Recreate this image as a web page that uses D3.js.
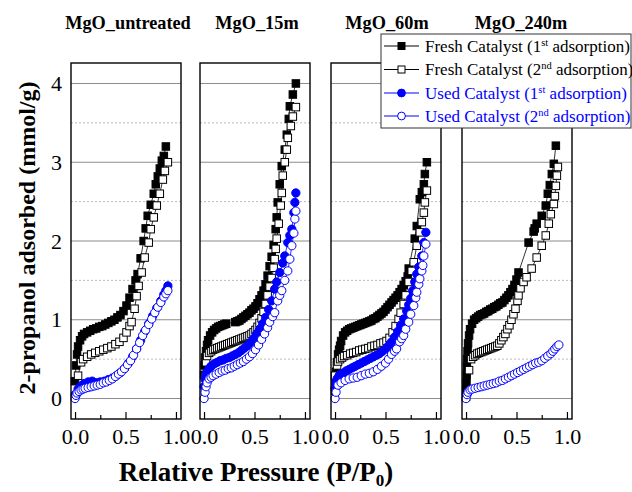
<!DOCTYPE html>
<html><head><meta charset="utf-8">
<script src="https://cdn.jsdelivr.net/npm/d3@7"></script>
<style>body{margin:0;background:#fff}svg{display:block}text{font-family:"Liberation Serif","Times New Roman",serif}</style>
</head><body><svg id="c" width="632" height="492"></svg>
<script>
// ---- data ----
const panelTitles = ["MgO_untreated", "MgO_15m", "MgO_60m", "MgO_240m"];
const seriesNames = ["Fresh Catalyst (1st adsorption)", "Fresh Catalyst (2nd adsorption)", "Used Catalyst (1st adsorption)", "Used Catalyst (2nd adsorption)"];
const xTickValues = [0, 0.25, 0.5, 0.75, 1];
const xTickLabels = ["0.0", "", "0.5", "", "1.0"];
const yTickValues = [0, 1, 2, 3, 4];
const yHalfValues = [0.5, 1.5, 2.5, 3.5];

const untreatedFresh1 = [[0.00,0.22],[0.01,0.42],[0.02,0.56],[0.03,0.66],[0.05,0.74],[0.07,0.79],[0.09,0.82],[0.12,0.84],[0.15,0.86],[0.18,0.88],[0.21,0.89],[0.24,0.91],[0.27,0.92],[0.30,0.94],[0.33,0.96],[0.36,0.98],[0.39,1.00],[0.42,1.03],[0.45,1.06],[0.48,1.11],[0.51,1.18],[0.54,1.28],[0.57,1.39],[0.60,1.50],[0.62,1.58],[0.65,1.78],[0.68,2.00],[0.70,2.16],[0.72,2.32],[0.75,2.46],[0.78,2.60],[0.80,2.72],[0.82,2.82],[0.84,2.92],[0.86,3.02],[0.88,3.08],[0.90,3.20]];
const untreatedFresh2 = [[0.03,0.29],[0.06,0.46],[0.08,0.50],[0.12,0.53],[0.16,0.56],[0.20,0.58],[0.24,0.60],[0.28,0.62],[0.32,0.64],[0.36,0.66],[0.40,0.69],[0.44,0.72],[0.48,0.77],[0.51,0.84],[0.54,0.92],[0.56,0.97],[0.59,1.14],[0.61,1.30],[0.63,1.43],[0.66,1.60],[0.69,1.79],[0.73,1.98],[0.75,2.15],[0.78,2.30],[0.81,2.45],[0.84,2.60],[0.87,2.78],[0.89,2.89],[0.92,3.00]];
const untreatedUsed1 = [[0.00,0.05],[0.03,0.12],[0.06,0.16],[0.09,0.19],[0.13,0.21],[0.17,0.22],[0.21,0.20],[0.25,0.21],[0.29,0.22],[0.33,0.24],[0.37,0.26],[0.41,0.29],[0.45,0.33],[0.49,0.38],[0.53,0.45],[0.57,0.53],[0.61,0.63],[0.65,0.74],[0.69,0.85],[0.73,0.95],[0.77,1.05],[0.81,1.15],[0.85,1.24],[0.88,1.32],[0.90,1.37],[0.92,1.43]];
const untreatedUsed2 = [[0.00,0.00],[0.01,0.04],[0.02,0.07],[0.04,0.09],[0.06,0.11],[0.08,0.12],[0.10,0.13],[0.13,0.14],[0.16,0.15],[0.19,0.16],[0.22,0.17],[0.25,0.18],[0.28,0.20],[0.31,0.21],[0.34,0.23],[0.37,0.25],[0.40,0.28],[0.43,0.31],[0.46,0.34],[0.49,0.38],[0.52,0.43],[0.55,0.48],[0.58,0.55],[0.61,0.63],[0.64,0.71],[0.67,0.80],[0.70,0.87],[0.73,0.94],[0.76,1.01],[0.79,1.09],[0.82,1.16],[0.85,1.22],[0.88,1.29],[0.90,1.33],[0.92,1.37]];

const m15Fresh1 = [[0.00,0.30],[0.005,0.42],[0.01,0.52],[0.02,0.60],[0.03,0.68],[0.04,0.74],[0.06,0.80],[0.08,0.84],[0.10,0.87],[0.12,0.89],[0.14,0.91],[0.16,0.92],[0.18,0.93],[0.20,0.94],[0.22,0.95],[0.31,0.97],[0.33,0.98],[0.35,0.99],[0.37,1.01],[0.39,1.03],[0.41,1.05],[0.43,1.07],[0.45,1.09],[0.47,1.12],[0.49,1.14],[0.51,1.17],[0.53,1.21],[0.55,1.26],[0.57,1.31],[0.59,1.37],[0.61,1.45],[0.63,1.56],[0.65,1.68],[0.67,1.80],[0.69,1.95],[0.71,2.15],[0.72,2.30],[0.73,2.49],[0.75,2.72],[0.77,2.95],[0.80,3.16],[0.82,3.35],[0.84,3.55],[0.85,3.71],[0.88,3.86],[0.91,4.00]];
const m15Fresh2 = [[0.01,0.29],[0.02,0.46],[0.03,0.54],[0.05,0.58],[0.07,0.60],[0.09,0.62],[0.11,0.63],[0.13,0.64],[0.15,0.65],[0.17,0.66],[0.19,0.67],[0.21,0.68],[0.23,0.69],[0.25,0.70],[0.27,0.71],[0.29,0.72],[0.31,0.73],[0.33,0.74],[0.35,0.75],[0.37,0.76],[0.39,0.77],[0.41,0.78],[0.43,0.79],[0.45,0.80],[0.47,0.82],[0.49,0.84],[0.51,0.87],[0.53,0.91],[0.55,0.96],[0.57,1.02],[0.59,1.10],[0.61,1.20],[0.63,1.31],[0.65,1.42],[0.67,1.53],[0.69,1.66],[0.70,1.77],[0.71,1.90],[0.72,2.03],[0.74,2.22],[0.76,2.45],[0.77,2.61],[0.78,2.83],[0.80,3.00],[0.82,3.16],[0.83,3.31],[0.86,3.46],[0.88,3.58],[0.91,3.70]];
const m15Used1 = [[0.00,0.15],[0.01,0.24],[0.02,0.30],[0.03,0.34],[0.05,0.38],[0.07,0.41],[0.10,0.44],[0.13,0.46],[0.16,0.48],[0.19,0.49],[0.22,0.51],[0.25,0.52],[0.28,0.54],[0.31,0.56],[0.34,0.58],[0.37,0.61],[0.40,0.64],[0.43,0.67],[0.46,0.71],[0.49,0.76],[0.52,0.82],[0.55,0.88],[0.58,0.95],[0.61,1.03],[0.64,1.13],[0.67,1.24],[0.70,1.39],[0.72,1.48],[0.75,1.60],[0.78,1.72],[0.80,1.81],[0.83,1.98],[0.85,2.07],[0.87,2.15],[0.89,2.36],[0.90,2.49],[0.91,2.61]];
const m15Used2 = [[0.00,0.00],[0.01,0.08],[0.02,0.15],[0.03,0.20],[0.05,0.25],[0.07,0.27],[0.09,0.29],[0.12,0.31],[0.15,0.33],[0.18,0.35],[0.21,0.36],[0.24,0.38],[0.27,0.39],[0.30,0.41],[0.33,0.43],[0.36,0.45],[0.39,0.47],[0.42,0.50],[0.45,0.53],[0.48,0.57],[0.51,0.62],[0.54,0.68],[0.57,0.75],[0.60,0.82],[0.63,0.90],[0.65,0.97],[0.68,1.04],[0.70,1.09],[0.73,1.24],[0.75,1.31],[0.77,1.37],[0.80,1.50],[0.83,1.62],[0.85,1.77],[0.87,1.94],[0.89,2.10],[0.90,2.28],[0.91,2.38]];

const m60Fresh1 = [[0.00,0.10],[0.005,0.21],[0.01,0.34],[0.02,0.46],[0.03,0.56],[0.04,0.62],[0.05,0.67],[0.06,0.73],[0.08,0.80],[0.10,0.84],[0.12,0.86],[0.14,0.88],[0.16,0.89],[0.18,0.90],[0.20,0.91],[0.22,0.92],[0.24,0.93],[0.26,0.94],[0.28,0.95],[0.30,0.96],[0.32,0.97],[0.34,0.98],[0.36,0.99],[0.38,1.01],[0.40,1.02],[0.42,1.04],[0.44,1.06],[0.46,1.08],[0.48,1.10],[0.50,1.13],[0.52,1.16],[0.54,1.19],[0.56,1.22],[0.58,1.25],[0.60,1.28],[0.62,1.31],[0.64,1.35],[0.66,1.39],[0.68,1.44],[0.70,1.49],[0.72,1.55],[0.73,1.65],[0.79,2.03],[0.81,2.19],[0.84,2.53],[0.86,2.62],[0.88,2.72],[0.89,2.85],[0.91,3.00]];
const m60Fresh2 = [[0.00,0.29],[0.02,0.42],[0.03,0.47],[0.05,0.50],[0.07,0.52],[0.09,0.54],[0.12,0.55],[0.15,0.57],[0.18,0.58],[0.21,0.59],[0.24,0.61],[0.27,0.62],[0.30,0.63],[0.33,0.64],[0.36,0.66],[0.39,0.67],[0.42,0.68],[0.45,0.70],[0.48,0.71],[0.51,0.73],[0.54,0.77],[0.57,0.84],[0.60,0.92],[0.63,1.01],[0.65,1.09],[0.68,1.20],[0.70,1.31],[0.73,1.48],[0.76,1.62],[0.78,1.73],[0.81,1.94],[0.84,2.11],[0.86,2.24],[0.88,2.36],[0.89,2.49],[0.91,2.64]];
const m60Used1 = [[0.00,0.13],[0.01,0.20],[0.02,0.25],[0.04,0.29],[0.06,0.31],[0.08,0.32],[0.11,0.35],[0.14,0.37],[0.17,0.39],[0.20,0.41],[0.23,0.43],[0.26,0.45],[0.29,0.47],[0.32,0.49],[0.35,0.51],[0.38,0.53],[0.41,0.55],[0.44,0.57],[0.47,0.60],[0.50,0.63],[0.53,0.67],[0.56,0.72],[0.59,0.78],[0.62,0.85],[0.65,0.93],[0.68,1.01],[0.71,1.11],[0.73,1.19],[0.75,1.27],[0.77,1.37],[0.79,1.48],[0.81,1.58],[0.83,1.67],[0.86,1.81],[0.88,1.98],[0.90,2.11]];
const m60Used2 = [[0.00,0.00],[0.01,0.08],[0.03,0.17],[0.06,0.20],[0.10,0.23],[0.14,0.25],[0.18,0.26],[0.22,0.27],[0.26,0.29],[0.30,0.31],[0.34,0.32],[0.38,0.34],[0.42,0.37],[0.46,0.41],[0.50,0.45],[0.53,0.50],[0.56,0.56],[0.59,0.60],[0.61,0.63],[0.64,0.72],[0.66,0.76],[0.68,0.80],[0.70,0.88],[0.73,0.97],[0.75,1.07],[0.78,1.18],[0.80,1.28],[0.81,1.35],[0.83,1.45],[0.84,1.52],[0.86,1.62],[0.87,1.69],[0.88,1.81],[0.90,1.96]];

const m240Fresh1 = [[0.00,0.02],[0.002,0.10],[0.004,0.20],[0.006,0.30],[0.008,0.40],[0.01,0.50],[0.015,0.60],[0.02,0.70],[0.03,0.80],[0.04,0.88],[0.06,0.95],[0.08,1.00],[0.10,1.02],[0.12,1.04],[0.14,1.06],[0.16,1.07],[0.18,1.08],[0.20,1.10],[0.22,1.11],[0.24,1.13],[0.26,1.14],[0.28,1.16],[0.30,1.17],[0.32,1.19],[0.34,1.21],[0.36,1.22],[0.38,1.25],[0.40,1.28],[0.42,1.31],[0.44,1.35],[0.46,1.39],[0.48,1.44],[0.50,1.51],[0.52,1.60],[0.62,1.98],[0.67,2.12],[0.68,2.16],[0.70,2.22],[0.75,2.32],[0.79,2.45],[0.81,2.60],[0.83,2.71],[0.85,2.85],[0.87,2.98],[0.89,3.21]];
const m240Fresh2 = [[0.03,0.36],[0.05,0.50],[0.07,0.53],[0.09,0.55],[0.11,0.57],[0.13,0.58],[0.15,0.59],[0.17,0.60],[0.19,0.61],[0.21,0.62],[0.23,0.63],[0.25,0.64],[0.27,0.65],[0.29,0.66],[0.31,0.67],[0.33,0.70],[0.35,0.74],[0.37,0.78],[0.39,0.82],[0.41,0.88],[0.43,0.93],[0.45,1.00],[0.47,1.07],[0.49,1.14],[0.51,1.24],[0.52,1.31],[0.54,1.40],[0.57,1.48],[0.60,1.54],[0.65,1.65],[0.70,1.79],[0.75,1.94],[0.79,2.07],[0.82,2.22],[0.84,2.34],[0.87,2.47],[0.88,2.57],[0.89,2.70],[0.90,2.83],[0.91,2.94]];
const m240Used1 = [];
const m240Used2 = [[0.00,0.00],[0.01,0.05],[0.02,0.08],[0.04,0.11],[0.06,0.12],[0.09,0.13],[0.12,0.14],[0.15,0.15],[0.18,0.16],[0.21,0.17],[0.24,0.18],[0.27,0.19],[0.30,0.20],[0.33,0.22],[0.36,0.23],[0.39,0.25],[0.42,0.27],[0.45,0.29],[0.48,0.31],[0.51,0.33],[0.54,0.35],[0.57,0.37],[0.60,0.39],[0.63,0.41],[0.66,0.43],[0.69,0.45],[0.72,0.46],[0.75,0.48],[0.78,0.51],[0.81,0.54],[0.84,0.57],[0.86,0.60],[0.88,0.63],[0.90,0.66],[0.92,0.68]];

const panelData = [
  [untreatedFresh1, untreatedFresh2, untreatedUsed1, untreatedUsed2],
  [m15Fresh1, m15Fresh2, m15Used1, m15Used2],
  [m60Fresh1, m60Fresh2, m60Used1, m60Used2],
  [m240Fresh1, m240Fresh2, m240Used1, m240Used2]
];

// ---- styles / layout ----
const seriesStyle = [
  {shape:"square", fill:"#000", stroke:"#000", line:"#000"},
  {shape:"square", fill:"#fff", stroke:"#000", line:"#000"},
  {shape:"circle", fill:"#0000ff", stroke:"#0000ff", line:"#0000ff"},
  {shape:"circle", fill:"#fff", stroke:"#0000ff", line:"#0000ff"}
];
const panelLeft = [71, 200, 331, 462];
const panelW = 110, plotTop = 63, plotBottom = 419;
const FONT = '"Liberation Serif","Times New Roman",serif';

const svg = d3.select("#c");
const y = d3.scaleLinear().domain([-0.26, 4.26]).range([plotBottom, plotTop]);

function marker(g, s, px, py, size) {
  if (s.shape === "square") {
    g.append("rect").attr("x", px - size/2).attr("y", py - size/2).attr("width", size).attr("height", size)
      .attr("fill", s.fill).attr("stroke", s.stroke).attr("stroke-width", 1);
  } else {
    g.append("circle").attr("cx", px).attr("cy", py).attr("r", size/2 + 0.4)
      .attr("fill", s.fill).attr("stroke", s.stroke).attr("stroke-width", 1);
  }
}

panelData.forEach((series, pi) => {
  const x = d3.scaleLinear().domain([-0.04, 1.05]).range([panelLeft[pi], panelLeft[pi] + panelW]);
  const g = svg.append("g");
  g.selectAll(".gs").data(yTickValues).enter().append("line")
    .attr("x1", x.range()[0]).attr("x2", x.range()[1])
    .attr("y1", d => y(d)).attr("y2", d => y(d))
    .attr("stroke", "#8c8c8c").attr("stroke-width", 1);
  g.selectAll(".gd").data(yHalfValues).enter().append("line")
    .attr("x1", x.range()[0]).attr("x2", x.range()[1])
    .attr("y1", d => y(d)).attr("y2", d => y(d))
    .attr("stroke", "#a8a8a8").attr("stroke-width", 0.8).attr("stroke-dasharray", "2,2");
  series.forEach((pts, si) => {
    const s = seriesStyle[si];
    if (!pts.length) return;
    g.append("path").datum(pts)
      .attr("d", d3.line().x(d => x(d[0])).y(d => y(d[1])))
      .attr("fill", "none").attr("stroke", s.line).attr("stroke-width", 0.8);
    const mg = g.append("g");
    pts.forEach(d => marker(mg, s, x(d[0]), y(d[1]), 7.5));
  });
  g.append("rect").attr("x", x.range()[0]).attr("y", plotTop).attr("width", panelW).attr("height", plotBottom - plotTop)
    .attr("fill", "none").attr("stroke", "#000").attr("stroke-width", 1.4);
  const ax = d3.axisBottom(x).tickValues(xTickValues).tickFormat((d, i) => xTickLabels[i]).tickSizeOuter(0)
    .tickSize(0).tickPadding(0);
  const axg = g.append("g").attr("transform", `translate(0,${plotBottom})`).call(ax);
  axg.select(".domain").remove();
  axg.selectAll(".tick line").attr("y2", (d, i) => i % 2 === 0 ? -7 : -4).attr("stroke", "#000").attr("stroke-width", 1.2);
  axg.selectAll(".tick text").attr("y", 25).attr("font-family", FONT).attr("font-size", 22).attr("fill", "#000")
    .attr("dy", null);
  svg.append("text").attr("x", [128, 257, 387, 521][pi]).attr("y", 29).attr("text-anchor", "middle")
    .attr("font-family", FONT).attr("font-weight", "bold").attr("font-size", 18.3).text(panelTitles[pi]);
  if (pi === 0) {
    const ay = d3.axisLeft(y).tickValues(yTickValues).tickFormat(d3.format("d")).tickSize(0).tickPadding(9);
    const ayg = g.append("g").attr("transform", `translate(${x.range()[0]},0)`).call(ay);
    ayg.select(".domain").remove();
    ayg.selectAll(".tick text").attr("font-family", FONT).attr("font-size", 22).attr("fill", "#000");
  }
});

svg.append("text").attr("transform", "translate(35,238) rotate(-90)").attr("text-anchor", "middle")
  .attr("font-family", FONT).attr("font-weight", "bold").attr("font-size", 24).text("2-propanol adsorbed (mmol/g)");
const xl = svg.append("text").attr("x", 256).attr("y", 481).attr("text-anchor", "middle")
  .attr("font-family", FONT).attr("font-weight", "bold").attr("font-size", 27);
xl.append("tspan").text("Relative Pressure (P/P");
xl.append("tspan").attr("font-size", 17).attr("dy", 5).text("0");
xl.append("tspan").attr("dy", -5).text(")");

const lg = svg.append("g");
lg.append("rect").attr("x", 381).attr("y", 34).attr("width", 250).attr("height", 94)
  .attr("fill", "#fff").attr("stroke", "#333").attr("stroke-width", 1);
const legendRows = [46, 69.5, 93, 116];
seriesNames.forEach((name, i) => {
  const s = seriesStyle[i], ry = legendRows[i];
  lg.append("line").attr("x1", 384).attr("x2", 419).attr("y1", ry).attr("y2", ry).attr("stroke", s.line).attr("stroke-width", 1);
  marker(lg, s, 401.5, ry, 7);
  const m = name.match(/^(.*\()(\d)(st|nd)( .*)$/);
  const t = lg.append("text").attr("x", 425).attr("y", ry + 5.5).attr("font-family", FONT).attr("font-size", 17)
    .attr("fill", i < 2 ? "#000" : "#0000ff");
  t.append("tspan").text(m[1] + m[2]);
  t.append("tspan").attr("font-size", 10.5).attr("dy", -6).text(m[3]);
  t.append("tspan").attr("dy", 6).text(m[4]);
});
</script></body></html>
